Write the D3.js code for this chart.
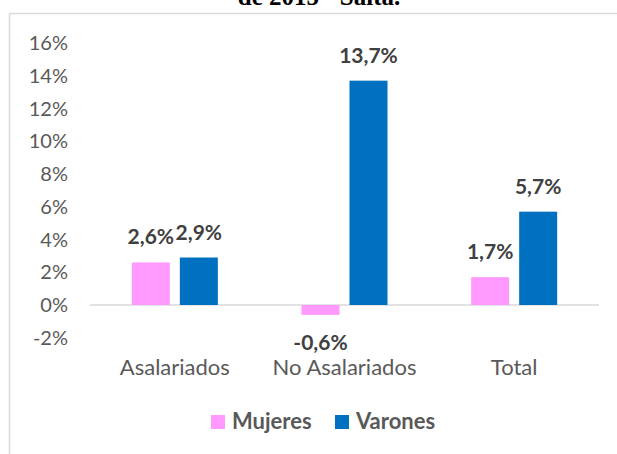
<!DOCTYPE html>
<html>
<head>
<meta charset="utf-8">
<script src="https://cdn.jsdelivr.net/npm/d3@7"></script>
<style>
  body { margin: 0; background: #fff; }
  svg { display: block; }
</style>
</head>
<body>
<svg></svg>
<script>
const categories = ["Asalariados", "No Asalariados", "Total"];
const series = ["Mujeres", "Varones"];
const mujeres = [2.6, -0.6, 1.7];
const varones = [2.9, 13.7, 5.7];
const yTicks = [-2, 0, 2, 4, 6, 8, 10, 12, 14, 16];
const colors = { Mujeres: "#ff99ff", Varones: "#0070c0" };

const width = 617;
const height = 454;

const svg = d3.select("svg")
    .attr("width", width)
    .attr("height", height);

// frame of the chart (only top and left edges are visible)
svg.append("line")
    .attr("x1", 9.5).attr("x2", width).attr("y1", 13.5).attr("y2", 13.5)
    .attr("stroke", "#d9d9d9").attr("stroke-width", 1.5);
svg.append("line")
    .attr("x1", 9.5).attr("x2", 9.5).attr("y1", 13.5).attr("y2", height)
    .attr("stroke", "#d9d9d9").attr("stroke-width", 1.5);

// title, cut off at the top like in the source
svg.append("text")
    .attr("x", 319).attr("y", 5)
    .attr("text-anchor", "middle")
    .attr("font-family", "Liberation Serif")
    .attr("font-weight", "bold")
    .attr("font-size", 25)
    .attr("fill", "#000")
    .text("de 2015 - Salta.");

const x = d3.scaleBand()
    .domain(categories)
    .range([90, 599]);

const x1 = d3.scaleBand()
    .domain(series)
    .range([x.bandwidth() / 2 - 43, x.bandwidth() / 2 + 43])
    .paddingInner(0.2083);

const y = d3.scaleLinear()
    .domain([-2, 16])
    .range([337.75, 43]);

// y tick labels
svg.append("g")
    .selectAll("text")
    .data(yTicks)
    .join("text")
    .attr("x", 68)
    .attr("y", d => y(d))
    .attr("dy", "0.35em")
    .attr("text-anchor", "end")
    .attr("font-family", "Lato")
    .attr("font-size", 20)
    .attr("fill", "#595959")
    .text(d => d + "%");

// zero line
svg.append("line")
    .attr("x1", 90).attr("x2", 599)
    .attr("y1", y(0)).attr("y2", y(0))
    .attr("stroke", "#d9d9d9").attr("stroke-width", 1.5);

const rows = categories.map((c, i) => ({
    category: c,
    values: [
        { key: "Mujeres", value: mujeres[i] },
        { key: "Varones", value: varones[i] }
    ]
}));

const groups = svg.append("g")
    .selectAll("g")
    .data(rows)
    .join("g")
    .attr("transform", d => `translate(${x(d.category)},0)`);

groups.selectAll("rect")
    .data(d => d.values)
    .join("rect")
    .attr("x", d => x1(d.key))
    .attr("width", x1.bandwidth())
    .attr("y", d => y(Math.max(0, d.value)))
    .attr("height", d => Math.abs(y(d.value) - y(0)))
    .attr("fill", d => colors[d.key]);

groups.selectAll("text")
    .data(d => d.values)
    .join("text")
    .attr("x", d => x1(d.key) + x1.bandwidth() / 2)
    .attr("y", d => d.value >= 0 ? y(d.value) - 18 : y(d.value) + 35)
    .attr("text-anchor", "middle")
    .attr("font-family", "Lato")
    .attr("font-weight", "bold")
    .attr("font-size", 21)
    .attr("fill", "#404040")
    .text(d => d3.format(".1f")(d.value).replace("−", "-").replace(".", ",") + "%");

// category labels
svg.append("g")
    .selectAll("text")
    .data(categories)
    .join("text")
    .attr("x", d => x(d) + x.bandwidth() / 2)
    .attr("y", 375)
    .attr("text-anchor", "middle")
    .attr("font-family", "Lato")
    .attr("font-size", 22)
    .attr("fill", "#595959")
    .text(d => d);

// legend
const legend = svg.append("g")
    .selectAll("g")
    .data(series)
    .join("g")
    .attr("transform", (d, i) => `translate(${211 + i * 124},415)`);

legend.append("rect")
    .attr("width", 14).attr("height", 14)
    .attr("fill", d => colors[d]);

legend.append("text")
    .attr("x", 21).attr("y", 14)
    .attr("font-family", "Lato")
    .attr("font-weight", "bold")
    .attr("font-size", 22)
    .attr("fill", "#595959")
    .text(d => d);
</script>
</body>
</html>
